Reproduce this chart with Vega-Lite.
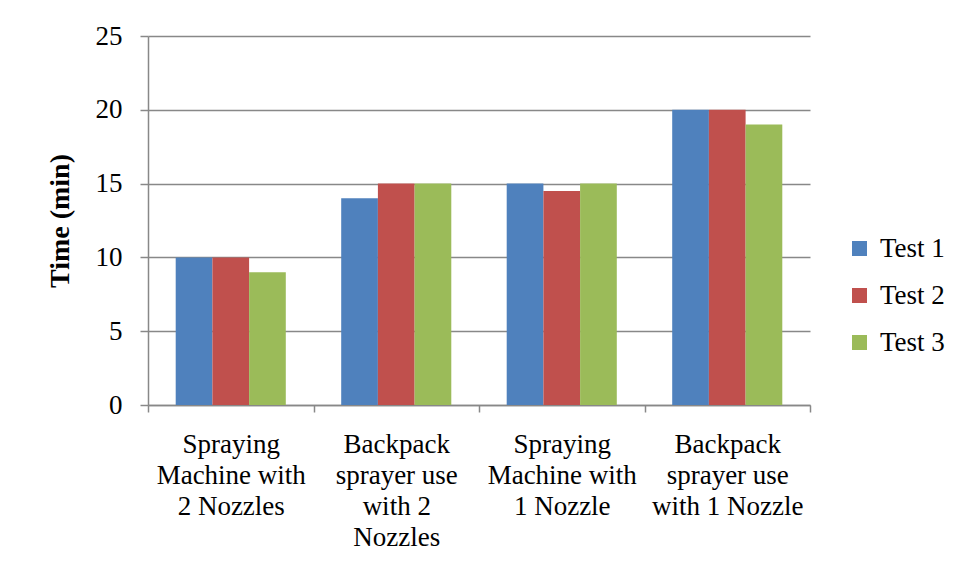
{
  "$schema": "https://vega.github.io/schema/vega-lite/v6.json",
  "width": 662,
  "height": 369,
  "autosize": {"type": "none"},
  "padding": {"left": 148, "top": 36, "right": 148, "bottom": 173},
  "background": "white",
  "data": {
    "values": [
      {"method": "Spraying|Machine with|2 Nozzles", "test": "Test 1", "time": 10},
      {"method": "Spraying|Machine with|2 Nozzles", "test": "Test 2", "time": 10},
      {"method": "Spraying|Machine with|2 Nozzles", "test": "Test 3", "time": 9},
      {"method": "Backpack|sprayer use|with 2|Nozzles", "test": "Test 1", "time": 14},
      {"method": "Backpack|sprayer use|with 2|Nozzles", "test": "Test 2", "time": 15},
      {"method": "Backpack|sprayer use|with 2|Nozzles", "test": "Test 3", "time": 15},
      {"method": "Spraying|Machine with|1 Nozzle", "test": "Test 1", "time": 15},
      {"method": "Spraying|Machine with|1 Nozzle", "test": "Test 2", "time": 14.5},
      {"method": "Spraying|Machine with|1 Nozzle", "test": "Test 3", "time": 15},
      {"method": "Backpack|sprayer use|with 1 Nozzle", "test": "Test 1", "time": 20},
      {"method": "Backpack|sprayer use|with 1 Nozzle", "test": "Test 2", "time": 20},
      {"method": "Backpack|sprayer use|with 1 Nozzle", "test": "Test 3", "time": 19}
    ]
  },
  "mark": {"type": "bar"},
  "encoding": {
    "x": {
      "field": "method",
      "type": "nominal",
      "sort": null,
      "scale": {"paddingInner": 0, "paddingOuter": 0},
      "axis": {
        "title": null,
        "labelAngle": 0,
        "labelExpr": "split(datum.label, '|')",
        "labelFont": "Liberation Serif",
        "labelFontSize": 27,
        "labelLineHeight": 31,
        "labelColor": "black",
        "labelPadding": 19,
        "labelBaseline": "top",
        "tickBand": "extent",
        "tickSize": 7,
        "tickColor": "#888888",
        "domainColor": "#888888",
        "domainWidth": 1.5,
        "tickWidth": 1.5,
        "grid": false
      }
    },
    "xOffset": {
      "field": "test",
      "type": "nominal",
      "scale": {"paddingInner": 0, "paddingOuter": 0.755}
    },
    "y": {
      "field": "time",
      "type": "quantitative",
      "scale": {"domain": [0, 25]},
      "axis": {
        "title": "Time (min)",
        "titleFont": "Liberation Serif",
        "titleFontSize": 28,
        "titleFontWeight": "bold",
        "titleColor": "black",
        "titlePadding": 21,
        "values": [0, 5, 10, 15, 20, 25],
        "labelFont": "Liberation Serif",
        "labelFontSize": 27,
        "labelColor": "black",
        "labelPadding": 18,
        "tickSize": 8,
        "tickColor": "#888888",
        "tickWidth": 1.5,
        "domainColor": "#888888",
        "domainWidth": 1.5,
        "grid": true,
        "gridColor": "#888888",
        "gridWidth": 1.5
      }
    },
    "color": {
      "field": "test",
      "type": "nominal",
      "scale": {"domain": ["Test 1", "Test 2", "Test 3"], "range": ["#4F81BD", "#C0504D", "#9BBB59"]},
      "legend": {
        "title": null,
        "orient": "none",
        "legendX": 698,
        "legendY": 199,
        "symbolType": "square",
        "symbolSize": 225,
        "symbolStrokeWidth": 0,
        "labelFont": "Liberation Serif",
        "labelFontSize": 27,
        "labelColor": "black",
        "labelOffset": 7,
        "rowPadding": 19
      }
    }
  },
  "config": {"view": {"stroke": null}}
}
